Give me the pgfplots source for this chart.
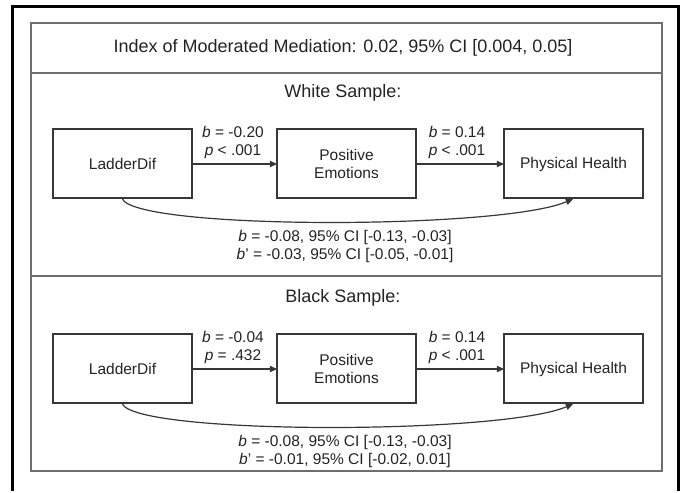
\documentclass[border=0pt]{standalone}
\usepackage{pgfplots}
\pgfplotsset{compat=1.18}
\usetikzlibrary{arrows.meta}
\usepackage{fontspec}
\setmainfont{Liberation Sans}
\definecolor{frame}{RGB}{0,0,0}
\definecolor{panel}{RGB}{110,110,110}
\definecolor{boxc}{RGB}{55,55,55}
\definecolor{txt}{RGB}{35,35,35}
\begin{document}
\begin{tikzpicture}
\begin{axis}[
  scale only axis, width=342.5pt, height=245.5pt,
  xmin=0, xmax=685, ymin=0, ymax=491, y dir=reverse,
  hide axis, clip=false,
]
\path (axis cs:0,0) (axis cs:685,491);
% outer frame
\addplot[frame, line width=1.5pt, mark=none, line join=miter] coordinates {(12,491) (12,6) (678,6) (678,491)};
% panel
\draw[panel, line width=1pt] (axis cs:31,23) rectangle (axis cs:662,471);
\addplot[panel, line width=1pt, mark=none] coordinates {(31,73) (662,73)};
\addplot[panel, line width=1pt, mark=none] coordinates {(31,276) (662,276)};
% texts
\tikzset{big/.style={txt, font=\fontsize{9}{11}\selectfont, inner sep=0pt},
         sm/.style={txt, font=\fontsize{7.75}{9.3}\selectfont, inner sep=0pt, align=center},
         bx/.style={boxc, line width=0.75pt},
         ar/.style={boxc, line width=0.6pt, mark=none, -{Triangle[length=3.6pt,width=3.2pt]}}}
\node[big] at (axis cs:343,48) {Index of Moderated Mediation: 0.02, 95\% CI [0.004, 0.05]};
% ---- White sample
\node[big] at (axis cs:343,93) {White Sample:};
\draw[bx] (axis cs:53,129) rectangle (axis cs:192,198);
\draw[bx] (axis cs:277,129) rectangle (axis cs:416,198);
\draw[bx] (axis cs:504,129) rectangle (axis cs:643,198);
\node[sm] at (axis cs:122.5,164) {LadderDif};
\node[sm, font=\fontsize{7.75}{9}\selectfont] at (axis cs:346.5,164) {Positive\\Emotions};
\node[sm] at (axis cs:573.5,164) {Physical Health};
\addplot[ar] coordinates {(192,164) (277,164)};
\addplot[ar] coordinates {(416,164) (504,164)};
\node[sm] at (axis cs:233,142.5) {\textit{b} = -0.20\\\textit{p} < .001};
\node[sm] at (axis cs:457,142.5) {\textit{b} = 0.14\\\textit{p} < .001};
\draw[boxc, line width=0.6pt, -{Triangle[length=3.6pt,width=3.2pt]}] (axis cs:122,198) .. controls (axis cs:130,230) and (axis cs:500,230) .. (axis cs:573,199);
\node[sm, font=\fontsize{7.75}{9}\selectfont] at (axis cs:345,246) {\textit{b} = -0.08, 95\% CI [-0.13, -0.03]\\\textit{b}’ = -0.03, 95\% CI [-0.05, -0.01]};
% ---- Black sample
\node[big] at (axis cs:343,298) {Black Sample:};
\draw[bx] (axis cs:53,334) rectangle (axis cs:192,403);
\draw[bx] (axis cs:277,334) rectangle (axis cs:416,403);
\draw[bx] (axis cs:504,334) rectangle (axis cs:643,403);
\node[sm] at (axis cs:122.5,369) {LadderDif};
\node[sm, font=\fontsize{7.75}{9}\selectfont] at (axis cs:346.5,369) {Positive\\Emotions};
\node[sm] at (axis cs:573.5,369) {Physical Health};
\addplot[ar] coordinates {(192,369) (277,369)};
\addplot[ar] coordinates {(416,369) (504,369)};
\node[sm] at (axis cs:233,347.5) {\textit{b} = -0.04\\\textit{p} = .432};
\node[sm] at (axis cs:457,347.5) {\textit{b} = 0.14\\\textit{p} < .001};
\draw[boxc, line width=0.6pt, -{Triangle[length=3.6pt,width=3.2pt]}] (axis cs:122,403) .. controls (axis cs:130,435) and (axis cs:500,435) .. (axis cs:573,404);
\node[sm, font=\fontsize{7.75}{9}\selectfont] at (axis cs:345,451) {\textit{b} = -0.08, 95\% CI [-0.13, -0.03]\\\textit{b}’ = -0.01, 95\% CI [-0.02, 0.01]};
\end{axis}
\end{tikzpicture}
\end{document}
